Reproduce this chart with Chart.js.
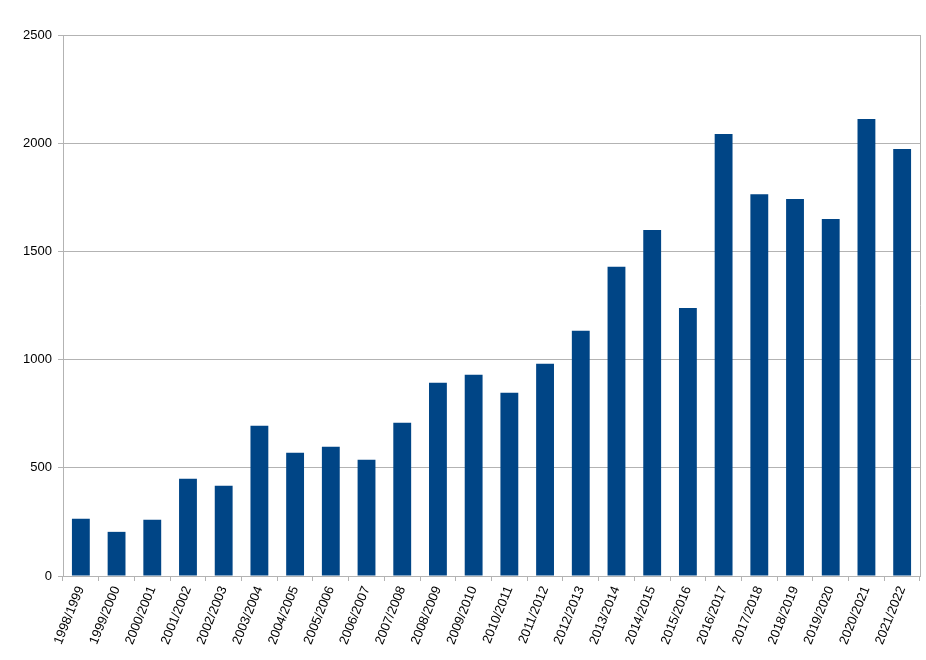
<!DOCTYPE html>
<html lang="en">
<head>
    <meta charset="UTF-8">
    <title>Bar Chart</title>
    <script src="https://cdn.jsdelivr.net/npm/chart.js"></script>
    <style>
        body {
            margin: 0;
            padding: 0;
            background: white;
        }
        .chart-container {
            position: relative;
            width: 926px;
            height: 660px;
        }
    </style>
</head>
<body>
    <div class="chart-container">
        <canvas id="barChart"></canvas>
    </div>

    <script>
        const seasons = [
            "1998/1999", "1999/2000", "2000/2001", "2001/2002", "2002/2003", "2003/2004",
            "2004/2005", "2005/2006", "2006/2007", "2007/2008", "2008/2009", "2009/2010",
            "2010/2011", "2011/2012", "2012/2013", "2013/2014", "2014/2015", "2015/2016",
            "2016/2017", "2017/2018", "2018/2019", "2019/2020", "2020/2021", "2021/2022"
        ];
        const values = [
            264, 204, 260, 449, 417, 694,
            569, 597, 537, 708, 893, 930,
            847, 981, 1133, 1429, 1599, 1239,
            2042, 1764, 1742, 1650, 2112, 1973
        ];
        const yTicks = [0, 500, 1000, 1500, 2000, 2500];

        const gridColor = "#b3b3b3";

        // frame on the right edge of the plot area
        const frame = {
            id: "frame",
            afterDraw(chart) {
                const { ctx, chartArea } = chart;
                ctx.save();
                ctx.strokeStyle = gridColor;
                ctx.lineWidth = 1;
                ctx.beginPath();
                ctx.moveTo(chartArea.right + 0.5, chartArea.top);
                ctx.lineTo(chartArea.right + 0.5, chartArea.bottom);
                ctx.stroke();
                ctx.restore();
            }
        };

        const ctx = document.getElementById("barChart").getContext("2d");
        new Chart(ctx, {
            type: "bar",
            data: {
                labels: seasons,
                datasets: [{
                    data: values,
                    backgroundColor: "#004586",
                    borderWidth: 0,
                    barPercentage: 0.5,
                    categoryPercentage: 1.0
                }]
            },
            options: {
                responsive: true,
                maintainAspectRatio: false,
                animation: false,
                layout: { padding: { top: 35, right: 6, left: 0, bottom: 0 } },
                plugins: {
                    legend: { display: false },
                    tooltip: { enabled: false }
                },
                scales: {
                    x: {
                        afterFit(axis) { axis.height = 84; },
                        border: { color: gridColor },
                        grid: {
                            drawOnChartArea: false,
                            tickLength: 5,
                            color: gridColor
                        },
                        ticks: {
                            minRotation: 68,
                            maxRotation: 68,
                            autoSkip: false,
                            padding: 3,
                            color: "#000",
                            font: { family: "'Liberation Sans', Arial, sans-serif", size: 13 }
                        }
                    },
                    y: {
                        min: 0,
                        max: 2500,
                        afterFit(axis) { axis.width = 63; },
                        afterBuildTicks(axis) { axis.ticks = yTicks.map(v => ({ value: v })); },
                        border: { color: gridColor },
                        grid: {
                            color: gridColor,
                            tickLength: 5
                        },
                        ticks: {
                            padding: 6,
                            color: "#000",
                            font: { family: "'Liberation Sans', Arial, sans-serif", size: 13 },
                            callback: value => String(value)
                        }
                    }
                }
            },
            plugins: [frame]
        });
    </script>
</body>
</html>
